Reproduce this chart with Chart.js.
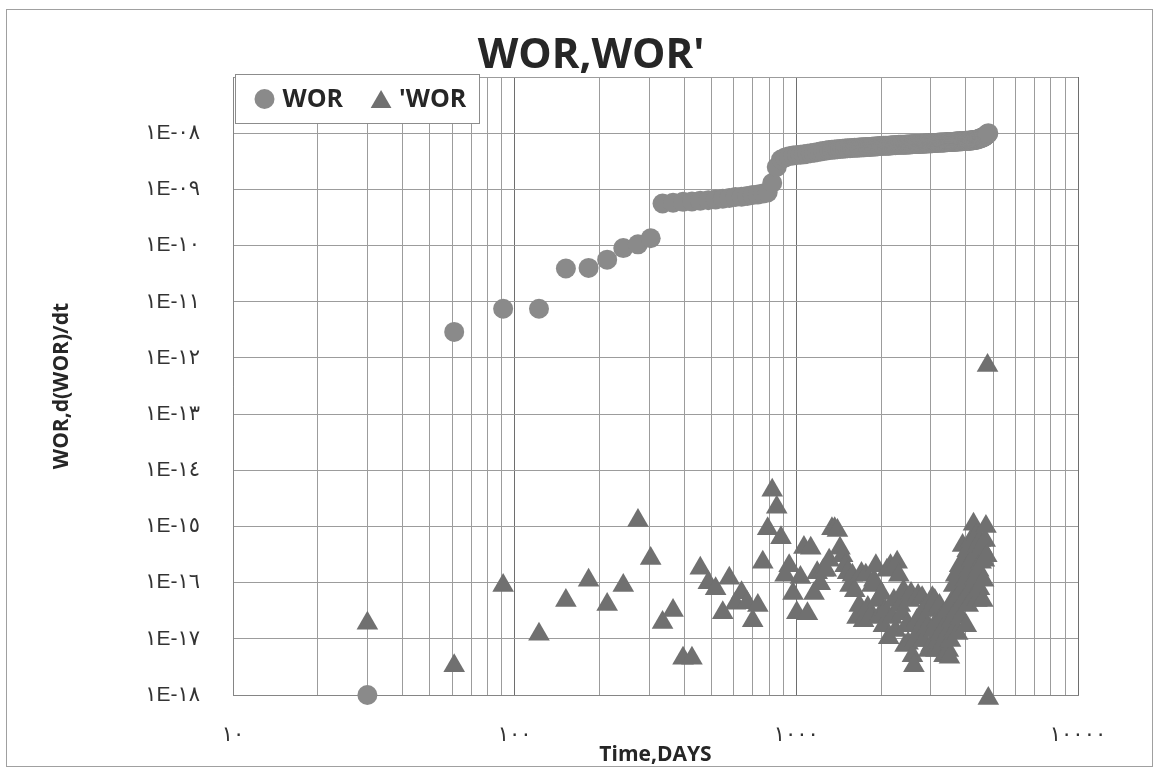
<!DOCTYPE html>
<html>
<head>
<meta charset="utf-8">
<title>WOR,WOR'</title>
<script src="https://cdn.jsdelivr.net/npm/chart.js@4.4.1/dist/chart.umd.min.js"></script>
<style>
  html, body { margin: 0; padding: 0; background: #fff; }
  canvas { display: block; }
</style>
</head>
<body>
<canvas id="chart" width="1159" height="771"></canvas>
<script>
// time of each monthly reading, days
const days = [
  30, 61, 91, 122, 152, 183, 213, 243, 274, 304,
  335, 365, 396, 426, 456, 487, 517, 548, 578, 608,
  639, 669, 700, 730, 760, 791, 821, 852, 882, 912,
  943, 973, 1004, 1034, 1064, 1095, 1125, 1156, 1186, 1216,
  1247, 1277, 1308, 1338, 1368, 1399, 1429, 1460, 1490, 1520,
  1551, 1581, 1612, 1642, 1672, 1703, 1733, 1764, 1794, 1824,
  1855, 1885, 1916, 1946, 1976, 2007, 2037, 2068, 2098, 2128,
  2159, 2189, 2220, 2250, 2280, 2311, 2341, 2372, 2402, 2432,
  2463, 2493, 2524, 2554, 2584, 2615, 2645, 2676, 2706, 2736,
  2767, 2797, 2828, 2858, 2888, 2919, 2949, 2980, 3010, 3040,
  3071, 3101, 3132, 3162, 3192, 3223, 3253, 3284, 3314, 3344,
  3375, 3405, 3436, 3466, 3496, 3527, 3557, 3588, 3618, 3648,
  3679, 3709, 3740, 3770, 3800, 3831, 3861, 3892, 3922, 3952,
  3983, 4013, 4044, 4074, 4104, 4135, 4165, 4196, 4226, 4256,
  4287, 4317, 4348, 4378, 4408, 4439, 4469, 4500, 4530, 4560,
  4591, 4621, 4652, 4682, 4712, 4743, 4773, 4804
];

// WOR
const worValues = [
  1.0e-18, 2.9e-12, 7.5e-12, 7.5e-12, 3.9e-11, 4.0e-11, 5.6e-11, 9.0e-11, 1.05e-10, 1.35e-10,
  5.6e-10, 5.8e-10, 6.0e-10, 6.1e-10, 6.3e-10, 6.4e-10, 6.6e-10, 6.8e-10, 7.0e-10, 7.3e-10,
  7.4e-10, 7.6e-10, 7.9e-10, 8.1e-10, 8.4e-10, 8.8e-10, 1.3e-9, 2.5e-9, 3.4e-9, 3.7e-9,
  3.9e-9, 4.0e-9, 4.1e-9, 4.15e-9, 4.2e-9, 4.3e-9, 4.4e-9, 4.5e-9, 4.6e-9, 4.7e-9,
  4.8e-9, 4.9e-9, 5.0e-9, 5.05e-9, 5.1e-9, 5.2e-9, 5.25e-9, 5.3e-9, 5.35e-9, 5.4e-9,
  5.4e-9, 5.45e-9, 5.5e-9, 5.5e-9, 5.55e-9, 5.6e-9, 5.6e-9, 5.65e-9, 5.7e-9, 5.7e-9,
  5.75e-9, 5.8e-9, 5.8e-9, 5.85e-9, 5.9e-9, 5.9e-9, 5.95e-9, 6.0e-9, 6.0e-9, 6.0e-9,
  6.05e-9, 6.1e-9, 6.1e-9, 6.1e-9, 6.15e-9, 6.2e-9, 6.2e-9, 6.2e-9, 6.25e-9, 6.25e-9,
  6.3e-9, 6.3e-9, 6.3e-9, 6.35e-9, 6.35e-9, 6.4e-9, 6.4e-9, 6.4e-9, 6.45e-9, 6.45e-9,
  6.5e-9, 6.5e-9, 6.5e-9, 6.55e-9, 6.55e-9, 6.6e-9, 6.6e-9, 6.6e-9, 6.65e-9, 6.65e-9,
  6.7e-9, 6.7e-9, 6.7e-9, 6.75e-9, 6.75e-9, 6.8e-9, 6.8e-9, 6.8e-9, 6.85e-9, 6.85e-9,
  6.9e-9, 6.9e-9, 6.9e-9, 6.95e-9, 6.95e-9, 7.0e-9, 7.0e-9, 7.0e-9, 7.05e-9, 7.05e-9,
  7.1e-9, 7.1e-9, 7.1e-9, 7.15e-9, 7.15e-9, 7.2e-9, 7.2e-9, 7.2e-9, 7.25e-9, 7.25e-9,
  7.3e-9, 7.3e-9, 7.3e-9, 7.35e-9, 7.35e-9, 7.4e-9, 7.4e-9, 7.45e-9, 7.5e-9, 7.5e-9,
  7.55e-9, 7.6e-9, 7.65e-9, 7.7e-9, 7.8e-9, 7.9e-9, 8.0e-9, 8.1e-9, 8.2e-9, 8.3e-9,
  8.4e-9, 8.5e-9, 8.7e-9, 8.9e-9, 9.1e-9, 9.4e-9, 9.7e-9, 1.0e-8
];

// d(WOR)/dt
const worPrimeValues = [
  1.9e-17, 3.3e-18, 8.9e-17, 1.2e-17, 4.8e-17, 1.1e-16, 4.1e-17, 8.9e-17, 1.27e-15, 2.7e-16,
  1.95e-17, 3.2e-17, 4.5e-18, 4.5e-18, 1.8e-16, 1.0e-16, 7.8e-17, 2.9e-17, 1.2e-16, 4.3e-17,
  6.6e-17, 4.4e-17, 2.1e-17, 3.9e-17, 2.3e-16, 9.1e-16, 4.4e-15, 2.2e-15, 6.3e-16, 1.35e-16,
  2.0e-16, 6.4e-17, 2.9e-17, 1.24e-16, 4.2e-16, 2.8e-17, 4.1e-16, 6.4e-17, 1.5e-16, 9.6e-17,
  1.66e-16, 1.66e-16, 2.5e-16, 9.1e-16, 9.1e-16, 8.5e-16, 4.1e-16, 3.0e-16, 2.0e-16, 1.5e-16,
  8.9e-17, 1.35e-16, 7.2e-17, 2.4e-17, 3.9e-17, 1.45e-16, 2.1e-17, 1.35e-16, 3.6e-17, 2.4e-17,
  8.9e-17, 1.1e-16, 2.0e-16, 4.8e-17, 2.6e-17, 6.4e-17, 1.7e-17, 3.2e-17, 1.66e-16, 1.05e-17,
  2.0e-16, 2.4e-17, 4.8e-17, 1.4e-17, 2.3e-16, 1.35e-16, 3.9e-17, 2.8e-17, 7.2e-17, 7.6e-18,
  1.7e-17, 8.3e-18, 4.8e-17, 6.4e-17, 5.0e-18, 3.3e-18, 9.3e-18, 2.1e-17, 5.9e-17, 1.4e-17,
  2.6e-17, 5.4e-17, 9.3e-18, 2.1e-17, 3.9e-17, 1.6e-17, 6.2e-18, 3.2e-17, 7.6e-18, 5.4e-17,
  1.4e-17, 4.8e-17, 6.2e-18, 2.1e-17, 9.3e-18, 3.9e-17, 1.24e-17, 7.6e-18, 2.6e-17, 5.0e-18,
  1.7e-17, 1.15e-17, 3.2e-17, 6.2e-18, 4.7e-18, 9.3e-18, 2.1e-17, 4.8e-17, 8.9e-17, 1.4e-17,
  1.35e-16, 3.2e-17, 1.24e-17, 5.9e-17, 2.0e-16, 2.4e-17, 7.2e-17, 4.6e-16, 4.8e-17, 2.5e-16,
  1.1e-16, 1.7e-17, 3.7e-16, 3.9e-17, 1.66e-16, 7.2e-17, 5.6e-16, 2.5e-16, 5.2e-17, 1.1e-15,
  3.0e-16, 1.2e-16, 6.9e-16, 4.8e-17, 4.6e-16, 1.66e-16, 7.8e-17, 5.6e-16, 2.3e-16, 4.2e-16,
  4.8e-17, 1.1e-16, 2.5e-16, 5.6e-16, 1.0e-15, 3.0e-16, 7.3e-13, 8.7e-19
];

// axes
const xTickValues = [10, 20, 30, 40, 50, 60, 70, 80, 90,
  100, 200, 300, 400, 500, 600, 700, 800, 900,
  1000, 2000, 3000, 4000, 5000, 6000, 7000, 8000, 9000, 10000];
const xLabelValues = [10, 100, 1000, 10000];
const xTickLabels = ['١٠', '١٠٠', '١٠٠٠', '١٠٠٠٠'];
const yTickValues = [1e-18, 1e-17, 1e-16, 1e-15, 1e-14, 1e-13, 1e-12, 1e-11, 1e-10, 1e-9, 1e-8, 1e-7];
const yTickLabels = ['١E-١٨', '١E-١٧', '١E-١٦', '١E-١٥', '١E-١٤', '١E-١٣', '١E-١٢', '١E-١١', '١E-١٠', '١E-٠٩', '١E-٠٨', ''];

const tickFont = { family: '"Liberation Sans", "DejaVu Sans", sans-serif', size: 21 };
const boldFont = (size) => ({ family: '"Open Sans", sans-serif', weight: 'bold', size: size, lineHeight: 1.2 });

// white page with the thin outer frame
const frame = {
  id: 'frame',
  beforeDraw(chart) {
    const ctx = chart.ctx;
    ctx.save();
    ctx.fillStyle = '#fff';
    ctx.fillRect(0, 0, chart.width, chart.height);
    ctx.strokeStyle = '#a0a0a0';
    ctx.lineWidth = 1;
    ctx.strokeRect(6.5, 9.5, chart.width - 13, chart.height - 14);
    ctx.restore();
  }
};

// legend box sitting on the top-left corner of the plot
const boxLegend = {
  id: 'boxLegend',
  afterDraw(chart) {
    const ctx = chart.ctx;
    const area = chart.chartArea;
    const x0 = area.left + 2.5, y0 = area.top - 2.5, w = 244, h = 49;
    ctx.save();
    ctx.fillStyle = '#fff';
    ctx.strokeStyle = '#8c8c8c';
    ctx.lineWidth = 1;
    ctx.fillRect(x0, y0, w, h);
    ctx.strokeRect(x0, y0, w, h);
    ctx.font = 'bold 25px "Open Sans"';
    ctx.textBaseline = 'middle';
    const cy = y0 + h / 2;
    let cursor = x0 + 19;
    chart.data.datasets.forEach(ds => {
      const mx = cursor + 10;
      ctx.fillStyle = ds.backgroundColor;
      ctx.beginPath();
      if (ds.pointStyle === 'triangle') {
        const r = 12;
        const my = cy + 3;
        ctx.moveTo(mx, my - r);
        ctx.lineTo(mx + r * Math.sin(2 * Math.PI / 3), my + r / 2);
        ctx.lineTo(mx - r * Math.sin(2 * Math.PI / 3), my + r / 2);
        ctx.closePath();
      } else {
        ctx.arc(mx, cy, 10, 0, Math.PI * 2);
      }
      ctx.fill();
      ctx.fillStyle = '#262626';
      ctx.fillText(ds.label, cursor + 28, cy + 1);
      cursor = cursor + 28 + ctx.measureText(ds.label).width + 28;
    });
    ctx.restore();
  }
};

const worPoints = days.map((d, i) => ({ x: d, y: worValues[i] }));
const worPrimePoints = days.map((d, i) => ({ x: d, y: worPrimeValues[i] }));

new Chart(document.getElementById('chart'), {
  type: 'scatter',
  data: {
    datasets: [
      {
        label: 'WOR',
        data: worPoints,
        pointStyle: 'circle',
        backgroundColor: '#8a8a8a',
        borderWidth: 0,
        pointRadius: 10,
        pointHoverRadius: 10,
        clip: false
      },
      {
        label: "'WOR",
        data: worPrimePoints,
        pointStyle: 'triangle',
        backgroundColor: '#707070',
        borderWidth: 0,
        pointRadius: 12.5,
        pointHoverRadius: 12.5,
        clip: false
      }
    ]
  },
  options: {
    responsive: false,
    animation: false,
    devicePixelRatio: 1,
    layout: { padding: { top: 10, left: 104, right: 81, bottom: 0 } },
    plugins: {
      legend: { display: false },
      tooltip: { enabled: false },
      title: {
        display: true,
        text: "WOR,WOR'",
        color: '#262626',
        font: { family: '"Open Sans", sans-serif', weight: 'bold', size: 42, lineHeight: 1 },
        padding: { top: 25, bottom: 0 }
      }
    },
    scales: {
      x: {
        type: 'logarithmic',
        min: 10,
        max: 10000,
        afterBuildTicks: s => { s.ticks = xTickValues.map(v => ({ value: v })); },
        afterFit: s => { s.height = 76; },
        ticks: {
          autoSkip: false,
          maxRotation: 0,
          padding: 28,
          color: '#333',
          font: tickFont,
          callback: v => {
            const i = xLabelValues.indexOf(v);
            return i < 0 ? '' : xTickLabels[i];
          }
        },
        grid: {
          drawTicks: false,
          color: c => (c.tick && xLabelValues.indexOf(c.tick.value) >= 0 && c.tick.value !== 10) ? '#6e6e6e' : '#9c9c9c'
        },
        border: { color: '#858585' },
        title: { display: true, text: 'Time,DAYS', color: '#262626', font: boldFont(21), padding: { top: 0, bottom: 3 } }
      },
      y: {
        type: 'logarithmic',
        min: 1e-18,
        max: 1e-7,
        afterBuildTicks: s => { s.ticks = yTickValues.map(v => ({ value: v })); },
        afterFit: s => { s.width = 233 - 104; },
        ticks: {
          autoSkip: false,
          padding: 33,
          color: '#333',
          font: tickFont,
          callback: (v, i) => yTickLabels[i]
        },
        grid: { drawTicks: false, color: '#9c9c9c' },
        border: { color: '#858585' },
        title: { display: true, text: 'WOR,d(WOR)/dt', color: '#262626', font: boldFont(21), padding: { top: -55, bottom: 0 } }
      }
    }
  },
  plugins: [frame, boxLegend]
});
</script>
</body>
</html>
